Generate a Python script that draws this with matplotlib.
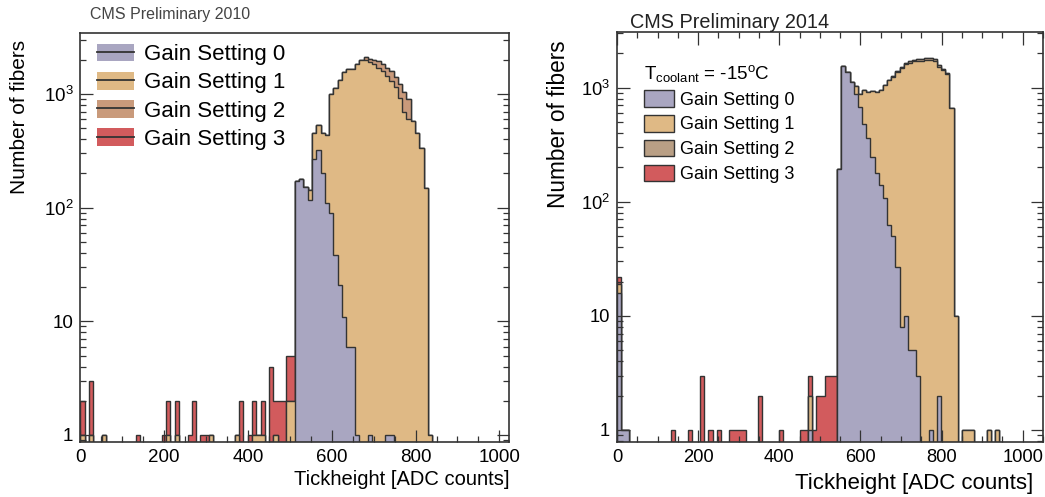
import numpy as np
import matplotlib
matplotlib.use("Agg")
import matplotlib.pyplot as plt
from matplotlib.patches import Patch
from matplotlib.lines import Line2D
from matplotlib.ticker import LogLocator, MultipleLocator, FuncFormatter, NullFormatter

plt.rcParams["font.family"] = ["Liberation Sans", "DejaVu Sans"]
plt.rcParams["mathtext.fontset"] = "custom"
plt.rcParams["mathtext.rm"] = "Liberation Sans"
plt.rcParams["mathtext.default"] = "regular"

# 100 bins over 0..1024 ADC counts
BIN_EDGES = np.linspace(0, 1024, 101)
GAIN_LABELS = ["Gain Setting 0", "Gain Setting 1", "Gain Setting 2", "Gain Setting 3"]

# ---- 2010: entries per bin for each gain setting ----
LEFT_G0 = [0] * 50 + [
    171, 178, 153, 117, 270, 320, 200, 109, 89, 38,
    21, 11, 6, 6, 1, 0, 0, 1, 0, 0,
    0, 1, 1, 0, 0, 0, 0, 0, 0, 0,
] + [0] * 20
LEFT_G1 = [
    1, 0, 1, 0, 0, 1, 0, 0, 0, 0,
    0, 0, 0, 0, 0, 0, 0, 0, 0, 0,
    1, 0, 1, 0, 0, 0, 0, 0, 0, 0,
    1, 0, 0, 0, 0, 0, 1, 0, 0, 0,
    1, 1, 1, 0, 0, 1, 0, 0, 2, 2,
    0, 0, 0, 26, 186, 213, 250, 326, 903, 1097,
    1304, 1538, 1634, 1657, 1819, 1987, 1987, 1899, 1820, 1700,
    1590, 1449, 1299, 1150, 930, 700, 600, 578, 450, 334,
    148, 1, 0, 0, 0, 0, 0, 0, 0, 0,
    0, 0, 0, 0, 0, 0, 0, 0, 0, 0,
]
LEFT_G2 = [0] * 60 + [
    0, 0, 0, 0, 0, 15, 110, 145, 170, 245,
    230, 250, 290, 270, 290, 350, 310, 0, 0, 0,
] + [0] * 20
LEFT_G3 = [
    1, 0, 2, 0, 0, 0, 0, 0, 0, 0,
    0, 0, 0, 1, 0, 0, 0, 0, 0, 1,
    1, 0, 1, 0, 0, 1, 2, 0, 1, 1,
    0, 0, 0, 0, 0, 0, 0, 2, 0, 1,
    1, 0, 1, 0, 4, 1, 2, 2, 3, 3,
] + [0] * 50

# ---- 2014 ----
RIGHT_G0 = [16, 1, 1] + [0] * 37 + [
    0, 0, 0, 0, 0, 0, 1, 0, 0, 0,
    0, 0, 0, 192, 1540, 1380, 1130, 880, 680, 480,
    360, 245, 180, 141, 108, 63, 50, 27, 8, 10,
    5, 5, 3, 0, 0, 1, 0, 2, 0, 0,
] + [0] * 20
RIGHT_G1 = [3] + [0] * 39 + [
    0, 0, 0, 0, 0, 0, 1, 0, 0, 0,
    0, 0, 0, 0, 0, 0, 0, 148, 200, 468,
    556, 682, 736, 819, 954, 1112, 1193, 1340, 1480, 1594,
    1655, 1705, 1720, 1725, 1740, 1739, 1705, 1529, 1418, 1325,
    664, 10, 0, 1, 1, 1, 0, 0, 0, 1,
    0, 1, 0, 0, 0, 0, 0, 0, 0, 0,
]
RIGHT_G2 = [0] * 60 + [
    0, 0, 0, 0, 0, 0, 15, 25, 30, 40,
    40, 50, 60, 70, 80, 80, 90, 60, 40, 20,
] + [0] * 20
RIGHT_G3 = [
    3, 0, 0, 0, 0, 0, 0, 0, 0, 0,
    0, 0, 0, 1, 0, 0, 0, 1, 0, 0,
    3, 0, 1, 0, 1, 0, 0, 1, 1, 1,
    1, 0, 0, 0, 2, 0, 0, 0, 0, 1,
    0, 0, 0, 0, 1, 1, 1, 1, 2, 2,
    3, 3, 3, 0, 0, 0, 0, 0, 0, 0,
] + [0] * 40

LEFT_COLORS = ["#a9a6c1", "#dfb985", "#c99a7b", "#d25b5d"]
RIGHT_COLORS = ["#a9a6c1", "#dfb985", "#b99f85", "#d25b5d"]
EDGE = "#333333"
FLOOR = 0.1  # below the visible y range, used as fill baseline on log axis


def log_label(v, pos):
    e = int(round(np.log10(v)))
    if e == 0:
        return "1"
    if e == 1:
        return "10"
    return "10$^{%d}$" % e


def draw_stack(ax, counts, colors):
    """Draw a ROOT-style stacked histogram: largest cumulative first."""
    cum = np.cumsum(np.array(counts, dtype=float), axis=0)
    for layer in range(len(counts) - 1, -1, -1):
        top = np.where(cum[layer] > 0, cum[layer], FLOOR)
        ax.stairs(top, BIN_EDGES, baseline=FLOOR, fill=True,
                  facecolor=colors[layer], edgecolor=EDGE, linewidth=1.0)


def style_axes(ax, xmax, ylim, top_ticks, fs):
    ax.set_yscale("log")
    ax.set_xlim(0, xmax)
    ax.set_ylim(*ylim)
    ax.xaxis.set_major_locator(MultipleLocator(200))
    ax.xaxis.set_minor_locator(MultipleLocator(50))
    ax.yaxis.set_major_locator(LogLocator(base=10, numticks=10))
    ax.yaxis.set_minor_locator(LogLocator(base=10, subs=np.arange(2, 10), numticks=20))
    ax.yaxis.set_major_formatter(FuncFormatter(log_label))
    ax.yaxis.set_minor_formatter(NullFormatter())
    ax.tick_params(which="both", direction="in", right=True, top=top_ticks,
                   color=EDGE, width=0.9, labelsize=fs)
    ax.tick_params(which="major", length=9, pad=5)
    ax.tick_params(which="minor", length=4.5)
    for sp in ax.spines.values():
        sp.set_color(EDGE)
        sp.set_linewidth(1.2)


fig = plt.figure(figsize=(10.45, 4.97), dpi=100)
ax1 = fig.add_axes([0.0768, 0.1113, 0.4107, 0.8213])
ax2 = fig.add_axes([0.5904, 0.1107, 0.4077, 0.825])

# left panel (2010)
draw_stack(ax1, [LEFT_G0, LEFT_G1, LEFT_G2, LEFT_G3], LEFT_COLORS)
style_axes(ax1, 1024, (0.873, 3400), False, 13.5)
ax1.set_xlabel("Tickheight [ADC counts]", fontsize=14.5, loc="right")
ax1.xaxis.set_label_coords(1.0, -0.07)
ax1.set_ylabel("Number of fibers", fontsize=15, loc="top")
ax1.yaxis.set_label_coords(-0.12, 0.985)
handles1 = [(Patch(facecolor=c, edgecolor="none"), Line2D([], [], color=EDGE, lw=1.3))
            for c in LEFT_COLORS]
ax1.legend(handles1, GAIN_LABELS, loc="upper left", bbox_to_anchor=(0.038, 0.975),
           frameon=False, fontsize=16, handlelength=1.7, handleheight=0.85,
           handletextpad=0.45, labelspacing=0.3, borderpad=0, borderaxespad=0)
fig.text(90 / 1045, 1 - 15 / 497, "CMS Preliminary 2010", fontsize=11.5,
         color="#444444", ha="left", va="center")

# right panel (2014)
draw_stack(ax2, [RIGHT_G0, RIGHT_G1, RIGHT_G2, RIGHT_G3], RIGHT_COLORS)
style_axes(ax2, 1050, (0.785, 3080), True, 13.2)
ax2.set_xlabel("Tickheight [ADC counts]", fontsize=16, loc="right")
ax2.xaxis.set_label_coords(0.977, -0.075)
ax2.set_ylabel("Number of fibers", fontsize=16.3, loc="top")
ax2.yaxis.set_label_coords(-0.11, 0.98)
handles2 = [Patch(facecolor=c, edgecolor=EDGE, linewidth=1.0) for c in RIGHT_COLORS]
ax2.legend(handles2, GAIN_LABELS, loc="upper left", bbox_to_anchor=(0.063, 0.925),
           frameon=False, fontsize=13, title="T$_{coolant}$ = -15$^{o}$C",
           title_fontsize=13.5, alignment="left", handlelength=1.65,
           handleheight=1.05, handletextpad=0.35, labelspacing=0.35,
           borderpad=0, borderaxespad=0)
fig.text(630 / 1045, 1 - 22 / 497, "CMS Preliminary 2014", fontsize=14.3,
         color="#222222", ha="left", va="center")

fig.savefig("out.png", dpi=100)
